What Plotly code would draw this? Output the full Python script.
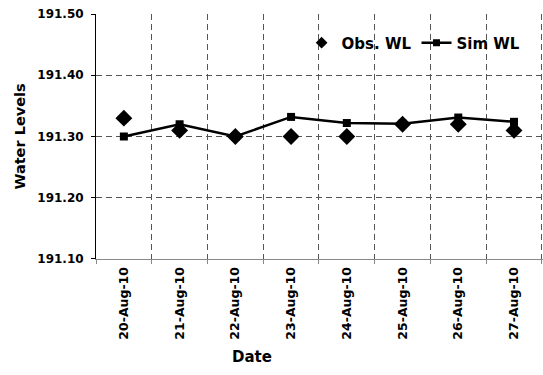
import plotly.graph_objects as go

# Daily observed vs simulated water levels
dates = ["20-Aug-10", "21-Aug-10", "22-Aug-10", "23-Aug-10",
         "24-Aug-10", "25-Aug-10", "26-Aug-10", "27-Aug-10"]
obs_wl = [191.33, 191.31, 191.30, 191.30, 191.30, 191.32, 191.32, 191.31]
sim_wl = [191.30, 191.32, 191.30, 191.332, 191.322, 191.321, 191.331, 191.324]
y_ticks = [191.10, 191.20, 191.30, 191.40, 191.50]

FONT = "DejaVu Sans"

fig = go.Figure()
fig.add_trace(go.Scatter(
    x=dates, y=obs_wl, name="Obs. WL", mode="markers", legendgroup="obs",
    showlegend=False,
    marker=dict(symbol="diamond", size=13, color="black"),
))
fig.add_trace(go.Scatter(
    x=dates, y=sim_wl, name="Sim WL", mode="lines+markers", legendgroup="sim",
    showlegend=False,
    line=dict(color="black", width=2.5),
    marker=dict(symbol="square", size=8, color="black"),
))
# legend keys with smaller symbols than the plotted markers
fig.add_trace(go.Scatter(
    x=[None], y=[None], name="Obs. WL", mode="markers", legendgroup="obs",
    marker=dict(symbol="diamond", size=9, color="black"),
))
fig.add_trace(go.Scatter(
    x=[None], y=[None], name="Sim WL", mode="lines+markers", legendgroup="sim",
    line=dict(color="black", width=2.5),
    marker=dict(symbol="square", size=7, color="black"),
))

fig.update_layout(
    width=543, height=375,
    margin=dict(l=96, r=0, t=14, b=116),
    paper_bgcolor="white", plot_bgcolor="white",
    font=dict(family=FONT, color="black"),
    showlegend=True,
    legend=dict(
        orientation="h", x=0.46, y=0.882, xanchor="left", yanchor="middle",
        bgcolor="rgba(0,0,0,0)", font=dict(size=15, family=FONT, weight="bold"),
        itemwidth=30, tracegroupgap=0,
    ),
    xaxis=dict(
        type="category", range=[-0.5, 7.52], tickson="boundaries",
        tickangle=-90, tickfont=dict(size=12.5, family=FONT, weight="bold"),
        ticklabelstandoff=2,
        showline=True, linecolor="#888888", linewidth=1,
        ticks="outside", ticklen=4, tickcolor="#888888",
        showgrid=True, gridcolor="#555555", griddash="6px,4px", gridwidth=1,
        zeroline=False,
    ),
    yaxis=dict(
        range=[191.0999, 191.5001], tickvals=y_ticks, tickformat=".2f",
        tickfont=dict(size=12, family=FONT, weight="bold"),
        ticklabelstandoff=5,
        showline=True, linecolor="black", linewidth=1,
        ticks="outside", ticklen=4, tickcolor="black",
        showgrid=True, gridcolor="#555555", griddash="6px,4px", gridwidth=1,
        zeroline=False,
        title=dict(text="Water Levels", font=dict(size=14.5, family=FONT, weight="bold"),
                   standoff=8),
    ),
    annotations=[dict(
        text="Date", x=(252 - 96) / (543 - 96), y=-(357 - 259) / (259 - 14),
        xref="paper", yref="paper", xanchor="center", yanchor="middle",
        showarrow=False, font=dict(size=15, family=FONT, weight="bold"),
    )],
)

fig.write_html("out.html")
